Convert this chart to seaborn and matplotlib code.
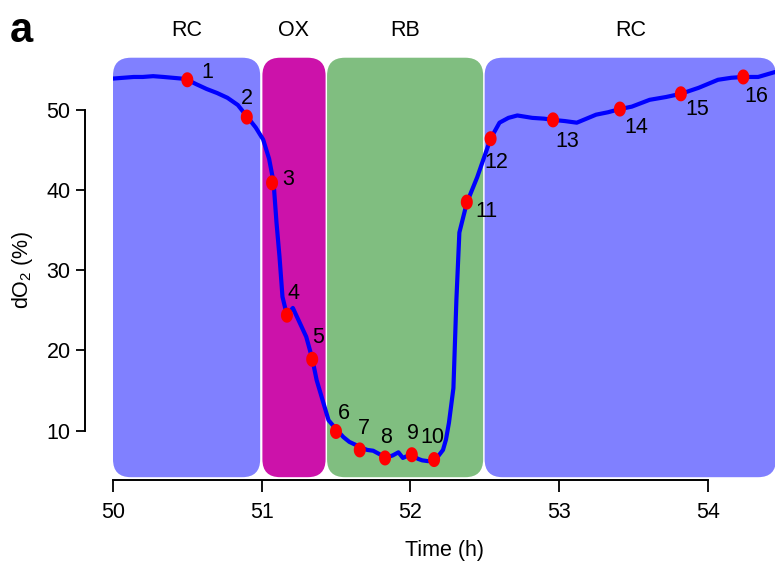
import numpy as np
import pandas as pd
import matplotlib
matplotlib.use("Agg")
import matplotlib.pyplot as plt
from matplotlib.patches import FancyBboxPatch
from matplotlib.path import Path
import seaborn as sns

# ---------------- data ----------------
time_h = [50.00, 50.07, 50.14, 50.20, 50.27, 50.34, 50.40, 50.46, 50.50, 50.56,
          50.63, 50.70, 50.77, 50.84, 50.90, 50.96, 51.01, 51.05, 51.08, 51.10,
          51.12, 51.14, 51.17, 51.21, 51.26, 51.30, 51.34, 51.37, 51.41, 51.45,
          51.51, 51.55, 51.59, 51.67, 51.71, 51.75, 51.80, 51.84, 51.88, 51.92,
          51.95, 52.01, 52.05, 52.08, 52.12, 52.17, 52.22, 52.24, 52.26, 52.29,
          52.31, 52.33, 52.38, 52.45, 52.54, 52.60, 52.66, 52.72, 52.82, 52.90,
          52.96, 53.04, 53.12, 53.25, 53.33, 53.41, 53.49, 53.61, 53.72, 53.82,
          53.94, 54.07, 54.16, 54.24, 54.34, 54.46]
do2_pct = [53.9, 54.0, 54.1, 54.1, 54.2, 54.1, 54.0, 53.9, 53.75, 53.2,
           52.6, 52.1, 51.5, 50.6, 49.2, 47.8, 46.3, 43.9, 41.0, 35.9,
           31.7, 26.7, 24.4, 25.3, 23.3, 21.7, 19.0, 16.3, 13.8, 11.3,
           10.0, 9.2, 8.6, 7.9, 7.6, 7.5, 7.0, 6.7, 6.9, 7.3,
           6.6, 7.1, 6.5, 6.3, 6.2, 6.4, 7.6, 8.9, 11.0, 15.3,
           26.3, 34.7, 38.4, 41.6, 46.4, 48.4, 49.0, 49.3, 49.0, 48.9,
           48.75, 48.6, 48.4, 49.4, 49.7, 50.1, 50.4, 51.25, 51.6, 52.0,
           52.75, 53.75, 54.0, 54.1, 54.1, 54.75]

sample_labels = [str(i) for i in range(1, 17)]
sample_time = [50.50, 50.90, 51.07, 51.17, 51.34, 51.50, 51.66, 51.83,
               52.01, 52.16, 52.38, 52.54, 52.96, 53.41, 53.82, 54.24]
sample_do2 = [53.75, 49.1, 40.9, 24.4, 18.9, 9.9, 7.6, 6.6,
              7.0, 6.4, 38.5, 46.4, 48.75, 50.1, 52.0, 54.1]

region_labels = ["RC", "OX", "RB", "RC"]
region_start = [50.00, 51.005, 51.44, 52.50]
region_end = [50.99, 51.43, 52.49, 54.46]

x_ticks = [50, 51, 52, 53, 54]
y_ticks = [10, 20, 30, 40, 50]

# ---------------- style ----------------
region_colors = ["#8080FF", "#CC12AA", "#80BE80", "#8080FF"]
label_offsets_px = [(20, 7), (0, 19), (16, 3), (7, 22), (6, 22), (8, 18),
                    (4, 21), (1, 20), (1, 21), (-2, 22), (20, -9), (6, -24),
                    (14, -22), (16, -18), (16, -16), (13, -20)]

sns.set_style("ticks")
plt.rcParams["font.family"] = ["Liberation Sans", "DejaVu Sans"]
plt.rcParams["mathtext.default"] = "regular"
plt.rcParams["text.color"] = "black"
plt.rcParams["axes.labelcolor"] = "black"
plt.rcParams["xtick.color"] = "black"
plt.rcParams["ytick.color"] = "black"

FS = 15.5

fig = plt.figure(figsize=(7.75, 5.63), dpi=100)
ax = fig.add_axes([113 / 775, 83 / 563, 663 / 775, 427.9 / 563])

y_lo, y_hi = 4.2, 56.5
for s, e, c in zip(region_start, region_end, region_colors):
    ax.add_patch(FancyBboxPatch((s, y_lo), e - s, y_hi - y_lo,
                                boxstyle="round,pad=0,rounding_size=0.12",
                                mutation_aspect=18.5, fc=c, ec="none", zorder=0))

df = pd.DataFrame({"time": time_h, "do2": do2_pct})
sns.lineplot(data=df, x="time", y="do2", color="#0000FF", lw=3.0,
             estimator=None, sort=False, ax=ax, zorder=2)

theta = np.linspace(0, 2 * np.pi, 60)
ellipse = Path(np.column_stack([0.8 * np.cos(theta), np.sin(theta)]), closed=True)
pts = pd.DataFrame({"time": sample_time, "do2": sample_do2})
sns.scatterplot(data=pts, x="time", y="do2", marker=ellipse, s=117,
                color="#FF0000", edgecolor="none", linewidth=0, zorder=3,
                legend=False, ax=ax)

for t, v, lab, off in zip(sample_time, sample_do2, sample_labels, label_offsets_px):
    ax.annotate(lab, (t, v), xytext=off, textcoords="offset pixels",
                ha="center", va="center", fontsize=FS, zorder=4)

for s, e, lab in zip(region_start, region_end, region_labels):
    ax.text((s + e) / 2, 59.85, lab, ha="center", va="center",
            fontsize=FS, clip_on=False)

ax.set_xlim(50, 54.46)
ax.set_ylim(3.85, 57.2)
ax.set_xticks(x_ticks)
ax.set_yticks(y_ticks)

sns.despine(ax=ax)
ax.spines["left"].set_position(("outward", 20))
ax.spines["left"].set_bounds(10, 50)
ax.spines["bottom"].set_bounds(50, 54)
for sp in ("left", "bottom"):
    ax.spines[sp].set_color("black")
    ax.spines[sp].set_linewidth(1.4)

ax.tick_params(axis="x", length=8.5, width=1.3, pad=7, labelsize=FS)
ax.tick_params(axis="y", length=6.5, width=1.3, pad=4, labelsize=FS)

ax.set_xlabel("Time (h)", fontsize=FS)
ax.set_ylabel("dO$_2$ (%)", fontsize=FS)
ax.xaxis.label.set_va("center")
ax.xaxis.set_label_coords(0.5, -0.165)
ax.yaxis.label.set_va("center")
ax.yaxis.set_label_coords(-0.137, 0.49)

fig.text(21 / 775, 1 - 31 / 563, "a", fontsize=30, fontweight="bold",
         ha="center", va="center")

fig.savefig("out.png", dpi=100)
